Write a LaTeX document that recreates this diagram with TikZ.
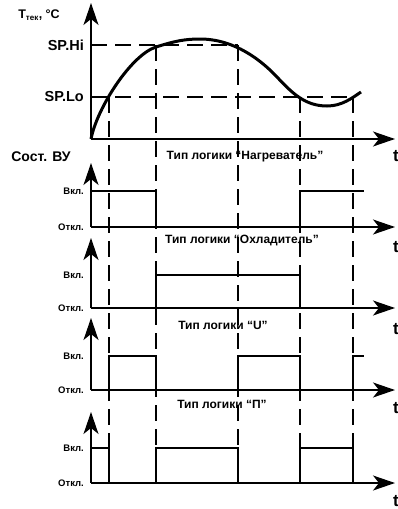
\documentclass[tikz,border=0pt]{standalone}
\usepackage{fontspec}
\setmainfont{Liberation Sans}
\usepackage{tikz}
\usetikzlibrary{arrows.meta, positioning}
\tikzset{
    axis/.style={
        draw=black,
        line width=1.4pt,
        -{Stealth[length=22pt,width=15pt,inset=6pt]}
    },
    guide/.style={
        draw=black,
        line width=1.1pt,
        dash pattern=on 16pt off 8pt
    },
    signal/.style={
        draw=black,
        line width=2.6pt,
        line join=miter
    },
    curve/.style={
        draw=black,
        line width=3pt
    },
    level/.style={
        anchor=east,
        inner sep=0pt,
        font=\bfseries\fontsize{9.5}{10}\selectfont
    },
    setpoint/.style={
        anchor=east,
        inner sep=0pt,
        font=\bfseries\fontsize{14.5}{16}\selectfont
    },
    title/.style={
        inner sep=0pt,
        font=\bfseries\fontsize{12}{14}\selectfont
    },
    tlabel/.style={
        inner sep=0pt,
        font=\bfseries\fontsize{17}{18}\selectfont
    }
}

\begin{document}
\begin{tikzpicture}[x=1pt,y=-1pt]
\useasboundingbox (0,0) rectangle (398,509);

% temperature
\coordinate (o0) at (91,139);
\coordinate (y0) at (91,3);
\coordinate (x0) at (395,139);
\coordinate (hi) at (91,45);
\coordinate (lo) at (91,97);

% heater
\coordinate (o1) at (91,227);
\coordinate (y1) at (91,163);
\coordinate (x1) at (395,227);

% cooler
\coordinate (o2) at (91,308);
\coordinate (y2) at (91,238);
\coordinate (x2) at (395,308);

% U
\coordinate (o3) at (91,390);
\coordinate (y3) at (91,318);
\coordinate (x3) at (395,390);

% P
\coordinate (o4) at (91,483);
\coordinate (y4) at (91,412);
\coordinate (x4) at (395,483);

% setpoint guides
\draw[guide] (hi) -- (238,45);
\draw[guide] (lo) -- (353,97);
\draw[guide] (109,97) -- (109,483);
\draw[guide] (156,45) -- (156,483);
\draw[guide] (238,45) -- (238,483);
\draw[guide] (300,97) -- (300,483);
\draw[guide] (353,97) -- (353,483);

\draw[curve] (o0) .. controls (97,108) and (131,55) .. (156,47)
    .. controls (175,41) and (185,39) .. (200,39)
    .. controls (235,39) and (262,61) .. (277,77)
    .. controls (292,93) and (305,106) .. (327,106)
    .. controls (342,106) and (352,98) .. (361,92);

\draw[axis] (o0) -- (y0);
\draw[axis] (o0) -- (x0);
\draw[axis] (o1) -- (y1);
\draw[axis] (o1) -- (x1);
\draw[axis] (o2) -- (y2);
\draw[axis] (o2) -- (x2);
\draw[axis] (o3) -- (y3);
\draw[axis] (o3) -- (x3);
\draw[axis] (o4) -- (y4);
\draw[axis] (o4) -- (x4);

% signals
\draw[signal] (91,191) -- (156,191) -- (156,227);
\draw[signal] (300,227) -- (300,191) -- (364,191);
\draw[signal] (156,308) -- (156,275) -- (300,275) -- (300,308);
\draw[signal] (109,390) -- (109,356) -- (156,356) -- (156,390);
\draw[signal] (238,390) -- (238,356) -- (300,356) -- (300,390);
\draw[signal] (353,390) -- (353,356) -- (364,356);
\draw[signal] (91,448) -- (109,448) -- (109,483);
\draw[signal] (156,483) -- (156,448) -- (238,448) -- (238,483);
\draw[signal] (300,483) -- (300,448) -- (353,448) -- (353,483);

% labels
\node[inner sep=0pt, font=\bfseries\fontsize{12.5}{14}\selectfont] (temp) at (39,15) {T\textsubscript{\fontsize{8}{9}\selectfont тек}, °C};
\node[setpoint] (sphi) at (84,45) {SP.Hi};
\node[setpoint] (splo) at (84,97) {SP.Lo};
\node[inner sep=0pt, font=\bfseries\fontsize{14}{16}\selectfont] (state) at (41,157) {Сост. ВУ};

\node[tlabel] (t0) at (396,156) {t};
\node[tlabel] (t1) at (396,247) {t};
\node[tlabel] (t2) at (396,329) {t};
\node[tlabel] (t3) at (396,408) {t};
\node[tlabel] (t4) at (396,501) {t};

\node[title] (heat) at (245,157) {Тип логики “Нагреватель”};
\node[title] (cool) at (242,241) {Тип логики “Охладитель”};
\node[title] (ulog) at (223,325) {Тип логики “U”};
\node[title] (plog) at (222,404) {Тип логики “П”};

\node[level] (on1) at (84,191) {Вкл.};
\node[level] (off1) at (84,227) {Откл.};
\node[level] (on2) at (84,275) {Вкл.};
\node[level] (off2) at (84,308) {Откл.};
\node[level] (on3) at (84,356) {Вкл.};
\node[level] (off3) at (84,390) {Откл.};
\node[level] (on4) at (84,448) {Вкл.};
\node[level] (off4) at (84,483) {Откл.};

\end{tikzpicture}
\end{document}
